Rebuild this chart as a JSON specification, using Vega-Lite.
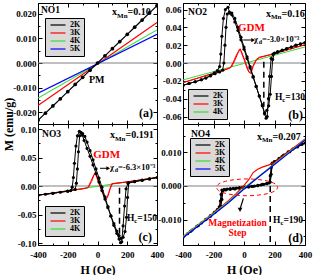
{
"$schema": "https://vega.github.io/schema/vega-lite/v6.json",
"autosize": {"type": "none"},
"padding": {"left": 38, "top": 3, "right": 276, "bottom": 272},
"background": "white",
"columns": 2,
"spacing": {"row": 0, "column": 26},
"bounds": "flush",
"align": "each",
"resolve": {"scale": {"x": "independent", "y": "independent", "color": "independent"}, "legend": {"color": "independent"}, "axis": {"x": "independent", "y": "independent"}},
"config": {
  "view": {"stroke": "black", "strokeWidth": 1},
  "font": "Liberation Serif",
  "axis": {"labelFont": "Liberation Serif", "labelFontWeight": "bold", "labelFontSize": 9, "labelColor": "black", "titleFont": "Liberation Serif", "titleFontWeight": "bold", "titleFontSize": 12, "titleColor": "black", "domainColor": "black", "domainWidth": 1, "tickColor": "black", "tickSize": -3, "grid": false, "labelPadding": 6, "labelFlush": false, "labelOverlap": false},
  "axisX": {"labelPadding": 9, "titlePadding": 3},
  "legend": {"fillColor": "#d9d9d9", "strokeColor": "black", "padding": 3, "labelFont": "Liberation Serif", "labelFontWeight": "bold", "labelFontSize": 8, "labelColor": "black", "symbolType": "M-3.75,0H3.75", "symbolSize": 16, "symbolStrokeWidth": 1.5, "rowPadding": 0, "labelOffset": 8, "symbolOffset": 6, "labelLimit": 30},
  "text": {"font": "Liberation Serif", "fontWeight": "bold", "fontSize": 10, "color": "black"},
  "line": {"strokeWidth": 1.2}
},
"datasets": {
  "zero": [{"H": -400, "M": 0}, {"H": 400, "M": 0}],
  "a": [
    {"T":"3K","H":-400,"M":-0.0172},{"T":"3K","H":400,"M":0.0164},
    {"T":"4K","H":-400,"M":-0.0142},{"T":"4K","H":400,"M":0.0134},
    {"T":"5K","H":-400,"M":-0.0122},{"T":"5K","H":400,"M":0.0116},
    {"T":"2K","H":-400,"M":-0.0232},{"T":"2K","H":-350,"M":-0.0203},{"T":"2K","H":-300,"M":-0.0174},{"T":"2K","H":-250,"M":-0.0145},{"T":"2K","H":-200,"M":-0.0116},{"T":"2K","H":-150,"M":-0.0087},{"T":"2K","H":-100,"M":-0.0058},{"T":"2K","H":-50,"M":-0.0029},{"T":"2K","H":0,"M":0.0},{"T":"2K","H":50,"M":0.0029},{"T":"2K","H":100,"M":0.0058},{"T":"2K","H":150,"M":0.0087},{"T":"2K","H":200,"M":0.0116},{"T":"2K","H":250,"M":0.0145},{"T":"2K","H":300,"M":0.0174},{"T":"2K","H":350,"M":0.0203},{"T":"2K","H":400,"M":0.0232}
  ],
  "b": [
    {"T":"4K","H":-400,"M":-0.019},{"T":"4K","H":400,"M":0.018},
    {"T":"3K","H":-400,"M":-0.022},{"T":"3K","H":-300,"M":-0.0168},{"T":"3K","H":-200,"M":-0.0115},{"T":"3K","H":-120,"M":-0.0075},{"T":"3K","H":-90,"M":-0.0055},{"T":"3K","H":-70,"M":0.001},{"T":"3K","H":-50,"M":0.009},{"T":"3K","H":-30,"M":0.015},{"T":"3K","H":-20,"M":0.013},{"T":"3K","H":0,"M":0.004},{"T":"3K","H":20,"M":-0.006},{"T":"3K","H":35,"M":-0.011},{"T":"3K","H":45,"M":-0.01},{"T":"3K","H":60,"M":-0.003},{"T":"3K","H":80,"M":0.004},{"T":"3K","H":100,"M":0.0065},{"T":"3K","H":200,"M":0.0105},{"T":"3K","H":300,"M":0.0155},{"T":"3K","H":400,"M":0.0205},
    {"T":"3K","H":400,"M":0.0205},{"T":"3K","H":300,"M":0.0155},{"T":"3K","H":200,"M":0.0105},{"T":"3K","H":100,"M":0.006},{"T":"3K","H":80,"M":0.003},{"T":"3K","H":60,"M":-0.004},{"T":"3K","H":45,"M":-0.012},{"T":"3K","H":30,"M":-0.009},{"T":"3K","H":10,"M":0.001},{"T":"3K","H":-10,"M":0.01},{"T":"3K","H":-25,"M":0.016},{"T":"3K","H":-40,"M":0.011},{"T":"3K","H":-60,"M":0.003},{"T":"3K","H":-80,"M":-0.004},{"T":"3K","H":-100,"M":-0.006},{"T":"3K","H":-200,"M":-0.0115},{"T":"3K","H":-300,"M":-0.0168},{"T":"3K","H":-400,"M":-0.022},
    {"T":"2K","H":-400,"M":-0.025},{"T":"2K","H":-360,"M":-0.023},{"T":"2K","H":-320,"M":-0.021},{"T":"2K","H":-280,"M":-0.0188},{"T":"2K","H":-250,"M":-0.0168},{"T":"2K","H":-220,"M":-0.014},{"T":"2K","H":-195,"M":-0.011},{"T":"2K","H":-175,"M":-0.0085},{"T":"2K","H":-160,"M":-0.004},{"T":"2K","H":-152,"M":0.01},{"T":"2K","H":-145,"M":0.03},{"T":"2K","H":-135,"M":0.05},{"T":"2K","H":-122,"M":0.06},{"T":"2K","H":-105,"M":0.0625},{"T":"2K","H":-95,"M":0.057},{"T":"2K","H":-80,"M":0.056},{"T":"2K","H":-60,"M":0.05},{"T":"2K","H":-40,"M":0.04},{"T":"2K","H":-20,"M":0.029},{"T":"2K","H":0,"M":0.018},{"T":"2K","H":20,"M":0.007},{"T":"2K","H":40,"M":-0.004},{"T":"2K","H":60,"M":-0.015},{"T":"2K","H":80,"M":-0.026},{"T":"2K","H":100,"M":-0.037},{"T":"2K","H":120,"M":-0.048},{"T":"2K","H":135,"M":-0.057},{"T":"2K","H":145,"M":-0.062},{"T":"2K","H":152,"M":-0.06},{"T":"2K","H":160,"M":-0.04},{"T":"2K","H":168,"M":-0.015},{"T":"2K","H":178,"M":0.005},{"T":"2K","H":190,"M":0.01},{"T":"2K","H":220,"M":0.012},{"T":"2K","H":250,"M":0.014},{"T":"2K","H":280,"M":0.016},{"T":"2K","H":310,"M":0.018},{"T":"2K","H":340,"M":0.02},{"T":"2K","H":370,"M":0.0215},{"T":"2K","H":400,"M":0.023},
    {"T":"2K","H":370,"M":0.0212},{"T":"2K","H":340,"M":0.0197},{"T":"2K","H":310,"M":0.018},{"T":"2K","H":280,"M":0.0162},{"T":"2K","H":250,"M":0.0145},{"T":"2K","H":220,"M":0.0128},{"T":"2K","H":200,"M":0.011},{"T":"2K","H":188,"M":0.004},{"T":"2K","H":180,"M":-0.015},{"T":"2K","H":172,"M":-0.035},{"T":"2K","H":162,"M":-0.048},{"T":"2K","H":150,"M":-0.053},{"T":"2K","H":135,"M":-0.056},{"T":"2K","H":120,"M":-0.047},{"T":"2K","H":100,"M":-0.037},{"T":"2K","H":80,"M":-0.0265},{"T":"2K","H":60,"M":-0.016},{"T":"2K","H":40,"M":-0.0055},{"T":"2K","H":20,"M":0.005},{"T":"2K","H":0,"M":0.0155},{"T":"2K","H":-20,"M":0.026},{"T":"2K","H":-40,"M":0.0365},{"T":"2K","H":-60,"M":0.046},{"T":"2K","H":-80,"M":0.054},{"T":"2K","H":-95,"M":0.056},{"T":"2K","H":-110,"M":0.055},{"T":"2K","H":-118,"M":0.04},{"T":"2K","H":-125,"M":0.02},{"T":"2K","H":-132,"M":0.0},{"T":"2K","H":-140,"M":-0.008},{"T":"2K","H":-160,"M":-0.01},{"T":"2K","H":-190,"M":-0.012},{"T":"2K","H":-220,"M":-0.0145},{"T":"2K","H":-250,"M":-0.0168},{"T":"2K","H":-280,"M":-0.0188},{"T":"2K","H":-320,"M":-0.021},{"T":"2K","H":-360,"M":-0.023},{"T":"2K","H":-400,"M":-0.025}
  ],
  "c": [
    {"T":"4K","H":-400,"M":-0.016},{"T":"4K","H":400,"M":0.015},
    {"T":"3K","H":-400,"M":-0.016},{"T":"3K","H":-200,"M":-0.0085},{"T":"3K","H":-100,"M":-0.005},{"T":"3K","H":-65,"M":-0.003},{"T":"3K","H":-45,"M":0.008},{"T":"3K","H":-30,"M":0.017},{"T":"3K","H":-17,"M":0.023},{"T":"3K","H":-5,"M":0.015},{"T":"3K","H":15,"M":0.0},{"T":"3K","H":35,"M":-0.013},{"T":"3K","H":55,"M":-0.025},{"T":"3K","H":65,"M":-0.02},{"T":"3K","H":80,"M":-0.008},{"T":"3K","H":95,"M":0.004},{"T":"3K","H":200,"M":0.0072},{"T":"3K","H":400,"M":0.015},
    {"T":"3K","H":400,"M":0.015},{"T":"3K","H":200,"M":0.0072},{"T":"3K","H":100,"M":0.004},{"T":"3K","H":85,"M":-0.005},{"T":"3K","H":70,"M":-0.018},{"T":"3K","H":58,"M":-0.023},{"T":"3K","H":45,"M":-0.018},{"T":"3K","H":25,"M":-0.005},{"T":"3K","H":5,"M":0.01},{"T":"3K","H":-10,"M":0.021},{"T":"3K","H":-22,"M":0.02},{"T":"3K","H":-40,"M":0.008},{"T":"3K","H":-60,"M":-0.002},{"T":"3K","H":-80,"M":-0.004},{"T":"3K","H":-200,"M":-0.0085},{"T":"3K","H":-400,"M":-0.016},
    {"T":"2K","H":-400,"M":-0.016},{"T":"2K","H":-350,"M":-0.0145},{"T":"2K","H":-300,"M":-0.0128},{"T":"2K","H":-250,"M":-0.011},{"T":"2K","H":-200,"M":-0.0092},{"T":"2K","H":-180,"M":-0.008},{"T":"2K","H":-170,"M":-0.002},{"T":"2K","H":-162,"M":0.015},{"T":"2K","H":-155,"M":0.04},{"T":"2K","H":-145,"M":0.07},{"T":"2K","H":-135,"M":0.088},{"T":"2K","H":-122,"M":0.096},{"T":"2K","H":-110,"M":0.0935},{"T":"2K","H":-100,"M":0.092},{"T":"2K","H":-85,"M":0.087},{"T":"2K","H":-70,"M":0.077},{"T":"2K","H":-50,"M":0.062},{"T":"2K","H":-30,"M":0.046},{"T":"2K","H":-10,"M":0.03},{"T":"2K","H":10,"M":0.014},{"T":"2K","H":30,"M":-0.002},{"T":"2K","H":50,"M":-0.019},{"T":"2K","H":70,"M":-0.036},{"T":"2K","H":90,"M":-0.053},{"T":"2K","H":110,"M":-0.069},{"T":"2K","H":130,"M":-0.083},{"T":"2K","H":145,"M":-0.093},{"T":"2K","H":155,"M":-0.0995},{"T":"2K","H":163,"M":-0.098},{"T":"2K","H":172,"M":-0.07},{"T":"2K","H":182,"M":-0.035},{"T":"2K","H":192,"M":-0.005},{"T":"2K","H":205,"M":0.005},{"T":"2K","H":250,"M":0.0075},{"T":"2K","H":300,"M":0.01},{"T":"2K","H":350,"M":0.0125},{"T":"2K","H":400,"M":0.015},
    {"T":"2K","H":350,"M":0.0125},{"T":"2K","H":300,"M":0.0102},{"T":"2K","H":250,"M":0.008},{"T":"2K","H":210,"M":0.006},{"T":"2K","H":202,"M":-0.02},{"T":"2K","H":195,"M":-0.055},{"T":"2K","H":185,"M":-0.08},{"T":"2K","H":172,"M":-0.09},{"T":"2K","H":158,"M":-0.092},{"T":"2K","H":145,"M":-0.087},{"T":"2K","H":130,"M":-0.079},{"T":"2K","H":110,"M":-0.066},{"T":"2K","H":90,"M":-0.052},{"T":"2K","H":70,"M":-0.038},{"T":"2K","H":50,"M":-0.023},{"T":"2K","H":30,"M":-0.008},{"T":"2K","H":10,"M":0.007},{"T":"2K","H":-10,"M":0.022},{"T":"2K","H":-30,"M":0.037},{"T":"2K","H":-50,"M":0.052},{"T":"2K","H":-70,"M":0.066},{"T":"2K","H":-90,"M":0.08},{"T":"2K","H":-102,"M":0.089},{"T":"2K","H":-112,"M":0.094},{"T":"2K","H":-120,"M":0.088},{"T":"2K","H":-128,"M":0.06},{"T":"2K","H":-135,"M":0.03},{"T":"2K","H":-142,"M":0.005},{"T":"2K","H":-150,"M":-0.006},{"T":"2K","H":-200,"M":-0.009},{"T":"2K","H":-300,"M":-0.0128},{"T":"2K","H":-400,"M":-0.016}
  ],
  "d": [
    {"T":"3K","H":-400,"M":-0.015},{"T":"3K","H":-300,"M":-0.0115},{"T":"3K","H":-200,"M":-0.008},{"T":"3K","H":-100,"M":-0.0043},{"T":"3K","H":-50,"M":-0.0022},{"T":"3K","H":0,"M":0.0002},{"T":"3K","H":30,"M":0.0018},{"T":"3K","H":60,"M":0.004},{"T":"3K","H":90,"M":0.005},{"T":"3K","H":120,"M":0.0056},{"T":"3K","H":160,"M":0.0062},{"T":"3K","H":200,"M":0.007},{"T":"3K","H":300,"M":0.0105},{"T":"3K","H":400,"M":0.014},
    {"T":"4K","H":-400,"M":-0.0151},{"T":"4K","H":-300,"M":-0.0116},{"T":"4K","H":-200,"M":-0.0082},{"T":"4K","H":-100,"M":-0.0046},{"T":"4K","H":0,"M":-0.0006},{"T":"4K","H":100,"M":0.003},{"T":"4K","H":200,"M":0.0066},{"T":"4K","H":300,"M":0.0102},{"T":"4K","H":400,"M":0.0138},
    {"T":"5K","H":-400,"M":-0.0154},{"T":"5K","H":-300,"M":-0.0119},{"T":"5K","H":-200,"M":-0.0085},{"T":"5K","H":-100,"M":-0.0049},{"T":"5K","H":0,"M":-0.0009},{"T":"5K","H":100,"M":0.0028},{"T":"5K","H":200,"M":0.0064},{"T":"5K","H":300,"M":0.01},{"T":"5K","H":400,"M":0.0136},
    {"T":"2K","H":-400,"M":-0.0152},{"T":"2K","H":-370,"M":-0.0142},{"T":"2K","H":-340,"M":-0.0131},{"T":"2K","H":-310,"M":-0.012},{"T":"2K","H":-280,"M":-0.011},{"T":"2K","H":-250,"M":-0.0099},{"T":"2K","H":-220,"M":-0.0088},{"T":"2K","H":-195,"M":-0.0079},{"T":"2K","H":-175,"M":-0.007},{"T":"2K","H":-162,"M":-0.0062},{"T":"2K","H":-155,"M":-0.0045},{"T":"2K","H":-150,"M":-0.0025},{"T":"2K","H":-145,"M":-0.0012},{"T":"2K","H":-130,"M":-0.001},{"T":"2K","H":-110,"M":-0.0009},{"T":"2K","H":-90,"M":-0.0008},{"T":"2K","H":-70,"M":-0.0007},{"T":"2K","H":-50,"M":-0.0006},{"T":"2K","H":-30,"M":-0.0005},{"T":"2K","H":-10,"M":-0.0004},{"T":"2K","H":10,"M":-0.0003},{"T":"2K","H":30,"M":-0.0002},{"T":"2K","H":50,"M":-0.0001},{"T":"2K","H":70,"M":0.0},{"T":"2K","H":90,"M":0.0001},{"T":"2K","H":110,"M":0.0003},{"T":"2K","H":130,"M":0.0005},{"T":"2K","H":150,"M":0.0007},{"T":"2K","H":165,"M":0.0009},{"T":"2K","H":172,"M":0.003},{"T":"2K","H":178,"M":0.0055},{"T":"2K","H":185,"M":0.0068},{"T":"2K","H":200,"M":0.0073},{"T":"2K","H":230,"M":0.0082},{"T":"2K","H":260,"M":0.0092},{"T":"2K","H":290,"M":0.0102},{"T":"2K","H":320,"M":0.011},{"T":"2K","H":350,"M":0.0118},{"T":"2K","H":380,"M":0.0124},{"T":"2K","H":400,"M":0.0128},
    {"T":"2K","H":350,"M":0.0116},{"T":"2K","H":300,"M":0.0102},{"T":"2K","H":250,"M":0.0088},{"T":"2K","H":200,"M":0.0072},{"T":"2K","H":185,"M":0.0066},{"T":"2K","H":178,"M":0.0035},{"T":"2K","H":172,"M":0.0012},{"T":"2K","H":150,"M":0.0008},{"T":"2K","H":120,"M":0.0005},{"T":"2K","H":90,"M":0.0002},{"T":"2K","H":60,"M":-0.0001},{"T":"2K","H":30,"M":-0.0003},{"T":"2K","H":0,"M":-0.0005},{"T":"2K","H":-30,"M":-0.0007},{"T":"2K","H":-60,"M":-0.0009},{"T":"2K","H":-90,"M":-0.001},{"T":"2K","H":-120,"M":-0.0012},{"T":"2K","H":-138,"M":-0.0014},{"T":"2K","H":-145,"M":-0.004},{"T":"2K","H":-152,"M":-0.006},{"T":"2K","H":-165,"M":-0.0068},{"T":"2K","H":-190,"M":-0.0078},{"T":"2K","H":-220,"M":-0.009},{"T":"2K","H":-250,"M":-0.01},{"T":"2K","H":-300,"M":-0.0118},{"T":"2K","H":-350,"M":-0.0135},{"T":"2K","H":-400,"M":-0.0152}
  ]
},
"concat": [
  {
    "width": 119, "height": 121,
    "resolve": {"axis": {"x": "independent", "y": "independent"}},
    "encoding": {
      "x": {"field": "H", "type": "quantitative", "scale": {"domain": [-400, 400], "nice": false, "zero": false}, "axis": null},
      "y": {"field": "M", "type": "quantitative", "scale": {"domain": [-0.0247, 0.0243], "nice": false, "zero": false}, "axis": null}
    },
    "layer": [
      {"data": {"name": "zero"}, "mark": {"type": "line", "color": "#808080", "strokeWidth": 1},
       "encoding": {
         "x": {"field": "H", "type": "quantitative", "scale": {"domain": [-400, 400], "nice": false, "zero": false}, "axis": {"values": [-400, -300, -200, -100, 0, 100, 200, 300, 400], "labels": false, "title": null, "tickSize": {"condition": {"test": "datum.value % 200 === 0", "value": -4}, "value": -2}}},
         "y": {"field": "M", "type": "quantitative", "scale": {"domain": [-0.0247, 0.0243], "nice": false, "zero": false}, "axis": {"values": [-0.02, -0.015, -0.01, -0.005, 0, 0.005, 0.01, 0.015, 0.02], "title": "M (emu/g)", "titleX": -30, "titleY": 121, "titleBaseline": "middle", "labelExpr": "abs(datum.value/0.01 - round(datum.value/0.01)) < 1e-6 ? replace(datum.label, '−', '-') : ''", "tickSize": {"condition": {"test": "abs(datum.value/0.01 - round(datum.value/0.01)) < 1e-6", "value": -4}, "value": -2}}}
       }},
      {"data": {"name": "zero"}, "mark": {"type": "line", "opacity": 0},
       "encoding": {
         "x": {"field": "H", "type": "quantitative", "scale": {"domain": [-400, 400], "nice": false, "zero": false}, "axis": {"orient": "top", "domain": false, "values": [-400, -300, -200, -100, 0, 100, 200, 300, 400], "labels": false, "title": null, "tickSize": {"condition": {"test": "datum.value % 200 === 0", "value": -4}, "value": -2}}},
         "y": {"field": "M", "type": "quantitative", "scale": {"domain": [-0.0247, 0.0243], "nice": false, "zero": false}, "axis": {"orient": "right", "domain": false, "values": [-0.02, -0.015, -0.01, -0.005, 0, 0.005, 0.01, 0.015, 0.02], "labels": false, "title": null, "tickSize": {"condition": {"test": "abs(datum.value/0.01 - round(datum.value/0.01)) < 1e-6", "value": -4}, "value": -2}}}
       }},
      {"data": {"name": "a"}, "mark": {"type": "line", "clip": true},
       "encoding": {"color": {"field": "T", "type": "nominal", "scale": {"domain": ["2K", "3K", "4K", "5K"], "range": ["black", "red", "#33dd33", "blue"]}, "legend": {"title": null, "orient": "none", "legendX": 7, "legendY": 15}},
                    "order": {"value": null},
                    "strokeWidth": {"condition": {"test": "datum.T === '2K'", "value": 3}, "value": 1.2}}},
      {"data": {"name": "a"}, "transform": [{"filter": "datum.T === '2K'"}], "mark": {"type": "point", "filled": true, "size": 14, "color": "black", "opacity": 1, "clip": true}},
      {"data": {"values": [{"H": -380, "M": 0.0215, "t": "NO1"}]}, "mark": {"type": "text", "align": "left", "fontSize": 9.5}, "encoding": {"text": {"field": "t"}}},
      {"data": {"values": [{"H": 98, "M": 0.0194, "a": "x", "b": "Mn", "c": "=0.10"}]},
       "layer": [
         {"mark": {"type": "text", "align": "left", "baseline": "alphabetic", "fontSize": 10}, "encoding": {"text": {"field": "a"}}},
         {"mark": {"type": "text", "align": "left", "baseline": "alphabetic", "fontSize": 7, "dx": 5, "dy": 2.5}, "encoding": {"text": {"field": "b"}}},
         {"mark": {"type": "text", "align": "left", "baseline": "alphabetic", "fontSize": 10, "dx": 15.5}, "encoding": {"text": {"field": "c"}}}
       ]},
      {"data": {"values": [{"H": -5, "M": -0.0069, "t": "PM"}]}, "mark": {"type": "text", "fontSize": 10}, "encoding": {"text": {"field": "t"}}},
      {"data": {"values": [{"H": 373, "M": -0.0202, "t": "(a)"}]}, "mark": {"type": "text", "align": "right", "fontSize": 12}, "encoding": {"text": {"field": "t"}}}
    ]
  },
  {
    "width": 122, "height": 121,
    "resolve": {"axis": {"x": "independent", "y": "independent"}},
    "encoding": {
      "x": {"field": "H", "type": "quantitative", "scale": {"domain": [-400, 400], "nice": false, "zero": false}, "axis": null},
      "y": {"field": "M", "type": "quantitative", "scale": {"domain": [-0.0684, 0.0673], "nice": false, "zero": false}, "axis": null}
    },
    "layer": [
      {"data": {"name": "zero"}, "mark": {"type": "line", "color": "#808080", "strokeWidth": 1},
       "encoding": {
         "x": {"field": "H", "type": "quantitative", "scale": {"domain": [-400, 400], "nice": false, "zero": false}, "axis": {"values": [-400, -300, -200, -100, 0, 100, 200, 300, 400], "labels": false, "title": null, "tickSize": {"condition": {"test": "datum.value % 200 === 0", "value": -4}, "value": -2}}},
         "y": {"field": "M", "type": "quantitative", "scale": {"domain": [-0.0684, 0.0673], "nice": false, "zero": false}, "axis": {"values": [-0.06, -0.05, -0.04, -0.03, -0.02, -0.01, 0, 0.01, 0.02, 0.03, 0.04, 0.05, 0.06], "title": null, "labelExpr": "abs(datum.value/0.02 - round(datum.value/0.02)) < 1e-6 ? replace(datum.label, '−', '-') : ''", "tickSize": {"condition": {"test": "abs(datum.value/0.02 - round(datum.value/0.02)) < 1e-6", "value": -4}, "value": -2}}}
       }},
      {"data": {"name": "zero"}, "mark": {"type": "line", "opacity": 0},
       "encoding": {
         "x": {"field": "H", "type": "quantitative", "scale": {"domain": [-400, 400], "nice": false, "zero": false}, "axis": {"orient": "top", "domain": false, "values": [-400, -300, -200, -100, 0, 100, 200, 300, 400], "labels": false, "title": null, "tickSize": {"condition": {"test": "datum.value % 200 === 0", "value": -4}, "value": -2}}},
         "y": {"field": "M", "type": "quantitative", "scale": {"domain": [-0.0684, 0.0673], "nice": false, "zero": false}, "axis": {"orient": "right", "domain": false, "values": [-0.06, -0.05, -0.04, -0.03, -0.02, -0.01, 0, 0.01, 0.02, 0.03, 0.04, 0.05, 0.06], "labels": false, "title": null, "tickSize": {"condition": {"test": "abs(datum.value/0.02 - round(datum.value/0.02)) < 1e-6", "value": -4}, "value": -2}}}
       }},
      {"data": {"name": "b"}, "mark": {"type": "line", "clip": true, "strokeWidth": 1},
       "encoding": {"color": {"field": "T", "type": "nominal", "scale": {"domain": ["2K", "3K", "4K"], "range": ["black", "red", "#33dd33"]}, "legend": {"title": null, "orient": "none", "legendX": 5, "legendY": 86}},
                    "order": {"value": null}}},
      {"data": {"name": "b"}, "transform": [{"filter": "datum.T === '2K'"}], "mark": {"type": "point", "filled": true, "size": 10, "color": "black", "opacity": 1, "clip": true}},
      {"data": {"values": [{"H": 130, "M": 0.0015}, {"H": 130, "M": -0.049}]}, "mark": {"type": "line", "color": "black", "strokeWidth": 1.5, "strokeDash": [6, 4]}},
      {"data": {"values": [{"H": -5, "M": 0.0258}, {"H": 58, "M": 0.0258}]}, "mark": {"type": "line", "color": "black", "strokeWidth": 1}},
      {"data": {"values": [{"H": 60, "M": 0.0258}]}, "mark": {"type": "point", "shape": "triangle-right", "filled": true, "size": 18, "color": "black", "opacity": 1}},
      {"data": {"values": [{"H": -367, "M": 0.0572, "t": "NO2"}]}, "mark": {"type": "text", "align": "left", "fontSize": 9.5}, "encoding": {"text": {"field": "t"}}},
      {"data": {"values": [{"H": 144, "M": 0.0519, "a": "x", "b": "Mn", "c": "=0.16"}]},
       "layer": [
         {"mark": {"type": "text", "align": "left", "baseline": "alphabetic", "fontSize": 10}, "encoding": {"text": {"field": "a"}}},
         {"mark": {"type": "text", "align": "left", "baseline": "alphabetic", "fontSize": 7, "dx": 5, "dy": 2.5}, "encoding": {"text": {"field": "b"}}},
         {"mark": {"type": "text", "align": "left", "baseline": "alphabetic", "fontSize": 10, "dx": 15.5}, "encoding": {"text": {"field": "c"}}}
       ]},
      {"data": {"values": [{"H": 49, "M": 0.0393, "t": "GDM"}]}, "mark": {"type": "text", "fontSize": 11, "color": "red"}, "encoding": {"text": {"field": "t"}}},
      {"data": {"values": [{"H": 66, "M": 0.0232, "a": "χ", "b": "d", "c": "=-3.0×10⁻³"}]},
       "layer": [
         {"mark": {"type": "text", "align": "left", "baseline": "alphabetic", "fontSize": 8.5}, "encoding": {"text": {"field": "a"}}},
         {"mark": {"type": "text", "align": "left", "baseline": "alphabetic", "fontSize": 6, "dx": 4.7, "dy": 2}, "encoding": {"text": {"field": "b"}}},
         {"mark": {"type": "text", "align": "left", "baseline": "alphabetic", "fontSize": 8.5, "dx": 8}, "encoding": {"text": {"field": "c"}}}
       ]},
      {"data": {"values": [{"H": 203, "M": -0.0415, "a": "H", "b": "c", "c": "=130"}]},
       "layer": [
         {"mark": {"type": "text", "align": "left", "baseline": "alphabetic", "fontSize": 9.5}, "encoding": {"text": {"field": "a"}}},
         {"mark": {"type": "text", "align": "left", "baseline": "alphabetic", "fontSize": 6.5, "dx": 7.4, "dy": 2}, "encoding": {"text": {"field": "b"}}},
         {"mark": {"type": "text", "align": "left", "baseline": "alphabetic", "fontSize": 9.5, "dx": 10.4}, "encoding": {"text": {"field": "c"}}}
       ]},
      {"data": {"values": [{"H": 387, "M": -0.0583, "t": "(b)"}]}, "mark": {"type": "text", "align": "right", "fontSize": 12}, "encoding": {"text": {"field": "t"}}}
    ]
  },
  {
    "width": 119, "height": 121,
    "resolve": {"axis": {"x": "independent", "y": "independent"}},
    "encoding": {
      "x": {"field": "H", "type": "quantitative", "scale": {"domain": [-400, 400], "nice": false, "zero": false}, "axis": null},
      "y": {"field": "M", "type": "quantitative", "scale": {"domain": [-0.1035, 0.1088], "nice": false, "zero": false}, "axis": null}
    },
    "layer": [
      {"data": {"name": "zero"}, "mark": {"type": "line", "color": "#808080", "strokeWidth": 1},
       "encoding": {
         "x": {"field": "H", "type": "quantitative", "scale": {"domain": [-400, 400], "nice": false, "zero": false}, "axis": {"values": [-400, -300, -200, -100, 0, 100, 200, 300, 400], "title": "H (Oe)", "labelExpr": "datum.value % 200 === 0 ? replace(datum.label, '−', '-') : ''", "tickSize": {"condition": {"test": "datum.value % 200 === 0", "value": -4}, "value": -2}}},
         "y": {"field": "M", "type": "quantitative", "scale": {"domain": [-0.1035, 0.1088], "nice": false, "zero": false}, "axis": {"values": [-0.1, -0.075, -0.05, -0.025, 0, 0.025, 0.05, 0.075, 0.1], "title": null, "labelExpr": "abs(datum.value/0.05 - round(datum.value/0.05)) < 1e-6 ? replace(datum.label, '−', '-') : ''", "tickSize": {"condition": {"test": "abs(datum.value/0.05 - round(datum.value/0.05)) < 1e-6", "value": -4}, "value": -2}}}
       }},
      {"data": {"name": "zero"}, "mark": {"type": "line", "opacity": 0},
       "encoding": {
         "x": {"field": "H", "type": "quantitative", "scale": {"domain": [-400, 400], "nice": false, "zero": false}, "axis": {"orient": "top", "domain": false, "values": [-400, -300, -200, -100, 0, 100, 200, 300, 400], "labels": false, "title": null, "tickSize": {"condition": {"test": "datum.value % 200 === 0", "value": -4}, "value": -2}}},
         "y": {"field": "M", "type": "quantitative", "scale": {"domain": [-0.1035, 0.1088], "nice": false, "zero": false}, "axis": {"orient": "right", "domain": false, "values": [-0.1, -0.075, -0.05, -0.025, 0, 0.025, 0.05, 0.075, 0.1], "labels": false, "title": null, "tickSize": {"condition": {"test": "abs(datum.value/0.05 - round(datum.value/0.05)) < 1e-6", "value": -4}, "value": -2}}}
       }},
      {"data": {"name": "c"}, "mark": {"type": "line", "clip": true, "strokeWidth": 1},
       "encoding": {"color": {"field": "T", "type": "nominal", "scale": {"domain": ["2K", "3K", "4K"], "range": ["black", "red", "#33dd33"]}, "legend": {"title": null, "orient": "none", "legendX": 7, "legendY": 82}},
                    "order": {"value": null}}},
      {"data": {"name": "c"}, "transform": [{"filter": "datum.T === '2K'"}], "mark": {"type": "point", "filled": true, "size": 10, "color": "black", "opacity": 1, "clip": true}},
      {"data": {"values": [{"H": 148, "M": -0.003}, {"H": 148, "M": -0.095}]}, "mark": {"type": "line", "color": "black", "strokeWidth": 1.5, "strokeDash": [6, 4]}},
      {"data": {"values": [{"H": 17, "M": 0.0311}, {"H": 70, "M": 0.0311}]}, "mark": {"type": "line", "color": "black", "strokeWidth": 1}},
      {"data": {"values": [{"H": 72, "M": 0.0311}]}, "mark": {"type": "point", "shape": "triangle-right", "filled": true, "size": 18, "color": "black", "opacity": 1}},
      {"data": {"values": [{"H": -373, "M": 0.0912, "t": "NO3"}]}, "mark": {"type": "text", "align": "left", "fontSize": 9.5}, "encoding": {"text": {"field": "t"}}},
      {"data": {"values": [{"H": 84, "M": 0.0837, "a": "x", "b": "Mn", "c": "=0.191"}]},
       "layer": [
         {"mark": {"type": "text", "align": "left", "baseline": "alphabetic", "fontSize": 10}, "encoding": {"text": {"field": "a"}}},
         {"mark": {"type": "text", "align": "left", "baseline": "alphabetic", "fontSize": 7, "dx": 5, "dy": 2.5}, "encoding": {"text": {"field": "b"}}},
         {"mark": {"type": "text", "align": "left", "baseline": "alphabetic", "fontSize": 10, "dx": 15.5}, "encoding": {"text": {"field": "c"}}}
       ]},
      {"data": {"values": [{"H": 62, "M": 0.0544, "t": "GDM"}]}, "mark": {"type": "text", "fontSize": 11, "color": "red"}, "encoding": {"text": {"field": "t"}}},
      {"data": {"values": [{"H": 84, "M": 0.0281, "a": "χ", "b": "d", "c": "=-6.3×10⁻³"}]},
       "layer": [
         {"mark": {"type": "text", "align": "left", "baseline": "alphabetic", "fontSize": 8.5}, "encoding": {"text": {"field": "a"}}},
         {"mark": {"type": "text", "align": "left", "baseline": "alphabetic", "fontSize": 6, "dx": 4.7, "dy": 2}, "encoding": {"text": {"field": "b"}}},
         {"mark": {"type": "text", "align": "left", "baseline": "alphabetic", "fontSize": 8.5, "dx": 8}, "encoding": {"text": {"field": "c"}}}
       ]},
      {"data": {"values": [{"H": 198, "M": -0.0609, "a": "H", "b": "c", "c": "=150"}]},
       "layer": [
         {"mark": {"type": "text", "align": "left", "baseline": "alphabetic", "fontSize": 9.5}, "encoding": {"text": {"field": "a"}}},
         {"mark": {"type": "text", "align": "left", "baseline": "alphabetic", "fontSize": 6.5, "dx": 7.4, "dy": 2}, "encoding": {"text": {"field": "b"}}},
         {"mark": {"type": "text", "align": "left", "baseline": "alphabetic", "fontSize": 9.5, "dx": 10.4}, "encoding": {"text": {"field": "c"}}}
       ]},
      {"data": {"values": [{"H": 366, "M": -0.0895, "t": "(c)"}]}, "mark": {"type": "text", "align": "right", "fontSize": 12}, "encoding": {"text": {"field": "t"}}}
    ]
  },
  {
    "width": 122, "height": 121,
    "resolve": {"axis": {"x": "independent", "y": "independent"}},
    "encoding": {
      "x": {"field": "H", "type": "quantitative", "scale": {"domain": [-400, 400], "nice": false, "zero": false}, "axis": null},
      "y": {"field": "M", "type": "quantitative", "scale": {"domain": [-0.01756, 0.01845], "nice": false, "zero": false}, "axis": null}
    },
    "layer": [
      {"data": {"name": "zero"}, "mark": {"type": "line", "color": "#808080", "strokeWidth": 1},
       "encoding": {
         "x": {"field": "H", "type": "quantitative", "scale": {"domain": [-400, 400], "nice": false, "zero": false}, "axis": {"values": [-400, -300, -200, -100, 0, 100, 200, 300, 400], "title": "H (Oe)", "labelExpr": "datum.value % 200 === 0 ? replace(datum.label, '−', '-') : ''", "tickSize": {"condition": {"test": "datum.value % 200 === 0", "value": -4}, "value": -2}}},
         "y": {"field": "M", "type": "quantitative", "scale": {"domain": [-0.01756, 0.01845], "nice": false, "zero": false}, "axis": {"values": [-0.015, -0.01, -0.005, 0, 0.005, 0.01, 0.015], "title": null, "labelExpr": "abs(datum.value/0.01 - round(datum.value/0.01)) < 1e-6 ? replace(datum.label, '−', '-') : ''", "tickSize": {"condition": {"test": "abs(datum.value/0.01 - round(datum.value/0.01)) < 1e-6", "value": -4}, "value": -2}}}
       }},
      {"data": {"name": "zero"}, "mark": {"type": "line", "opacity": 0},
       "encoding": {
         "x": {"field": "H", "type": "quantitative", "scale": {"domain": [-400, 400], "nice": false, "zero": false}, "axis": {"orient": "top", "domain": false, "values": [-400, -300, -200, -100, 0, 100, 200, 300, 400], "labels": false, "title": null, "tickSize": {"condition": {"test": "datum.value % 200 === 0", "value": -4}, "value": -2}}},
         "y": {"field": "M", "type": "quantitative", "scale": {"domain": [-0.01756, 0.01845], "nice": false, "zero": false}, "axis": {"orient": "right", "domain": false, "values": [-0.015, -0.01, -0.005, 0, 0.005, 0.01, 0.015], "labels": false, "title": null, "tickSize": {"condition": {"test": "abs(datum.value/0.01 - round(datum.value/0.01)) < 1e-6", "value": -4}, "value": -2}}}
       }},
      {"data": {"name": "d"}, "transform": [{"filter": "datum.T === '2K'"}], "mark": {"type": "line", "clip": true, "strokeWidth": 1.2},
       "encoding": {"color": {"field": "T", "type": "nominal", "scale": {"domain": ["2K", "3K", "4K", "5K"], "range": ["black", "red", "#33dd33", "blue"]}, "legend": {"title": null, "orient": "none", "legendX": 7, "legendY": 14}},
                    "order": {"value": null}}},
      {"data": {"name": "d"}, "transform": [{"filter": "datum.T === '2K'"}], "mark": {"type": "point", "filled": true, "size": 10, "color": "black", "opacity": 1, "clip": true}},
      {"data": {"name": "d"}, "transform": [{"filter": "datum.T !== '2K'"}], "mark": {"type": "line", "clip": true, "strokeWidth": 1.2},
       "encoding": {"color": {"field": "T", "type": "nominal", "scale": {"domain": ["2K", "3K", "4K", "5K"], "range": ["black", "red", "#33dd33", "blue"]}, "legend": {"title": null, "orient": "none", "legendX": 7, "legendY": 14}},
                    "order": {"value": null}}},
      {"data": {"values": [{"H": 220, "M": -0.0004}, {"H": 205, "M": 0.0006}, {"H": 161, "M": 0.0014}, {"H": 97, "M": 0.0019}, {"H": 20, "M": 0.0021}, {"H": -57, "M": 0.0019}, {"H": -121, "M": 0.0014}, {"H": -165, "M": 0.0006}, {"H": -180, "M": -0.0004}, {"H": -165, "M": -0.0014}, {"H": -121, "M": -0.0022}, {"H": -57, "M": -0.0027}, {"H": 20, "M": -0.0029}, {"H": 97, "M": -0.0027}, {"H": 161, "M": -0.0022}, {"H": 205, "M": -0.0014}]},
       "mark": {"type": "line", "color": "red", "strokeWidth": 1, "strokeDash": [4, 3], "interpolate": "cardinal-closed"}, "encoding": {"order": {"value": null}}},
      {"data": {"values": [{"H": 172, "M": 0.0}, {"H": 172, "M": -0.0176}]}, "mark": {"type": "line", "color": "black", "strokeWidth": 1.5, "strokeDash": [6, 4], "clip": true}},
      {"data": {"values": [{"H": -4, "M": -0.0037}, {"H": -24, "M": -0.0066}]}, "mark": {"type": "line", "color": "black", "strokeWidth": 1.2}},
      {"data": {"values": [{"H": -26, "M": -0.0071}]}, "mark": {"type": "point", "shape": "triangle-down", "filled": true, "size": 22, "color": "black", "opacity": 1}},
      {"data": {"values": [{"H": -348, "M": 0.01548, "t": "NO4"}]}, "mark": {"type": "text", "align": "left", "fontSize": 9.5}, "encoding": {"text": {"field": "t"}}},
      {"data": {"values": [{"H": 85, "M": 0.0137, "a": "x", "b": "Mn", "c": "=0.207"}]},
       "layer": [
         {"mark": {"type": "text", "align": "left", "baseline": "alphabetic", "fontSize": 10}, "encoding": {"text": {"field": "a"}}},
         {"mark": {"type": "text", "align": "left", "baseline": "alphabetic", "fontSize": 7, "dx": 5, "dy": 2.5}, "encoding": {"text": {"field": "b"}}},
         {"mark": {"type": "text", "align": "left", "baseline": "alphabetic", "fontSize": 10, "dx": 15.5}, "encoding": {"text": {"field": "c"}}}
       ]},
      {"data": {"values": [{"H": -43, "M": -0.0111, "t": "Magnetization"}, {"H": -43, "M": -0.0141, "t": "Step"}]}, "mark": {"type": "text", "fontSize": 9.5, "color": "red"}, "encoding": {"text": {"field": "t"}}},
      {"data": {"values": [{"H": 190, "M": -0.0109, "a": "H", "b": "c", "c": "=190"}]},
       "layer": [
         {"mark": {"type": "text", "align": "left", "baseline": "alphabetic", "fontSize": 9.5}, "encoding": {"text": {"field": "a"}}},
         {"mark": {"type": "text", "align": "left", "baseline": "alphabetic", "fontSize": 6.5, "dx": 7.4, "dy": 2}, "encoding": {"text": {"field": "b"}}},
         {"mark": {"type": "text", "align": "left", "baseline": "alphabetic", "fontSize": 9.5, "dx": 10.4}, "encoding": {"text": {"field": "c"}}}
       ]},
      {"data": {"values": [{"H": 387, "M": -0.01548, "t": "(d)"}]}, "mark": {"type": "text", "align": "right", "fontSize": 12}, "encoding": {"text": {"field": "t"}}}
    ]
  }
]
}
